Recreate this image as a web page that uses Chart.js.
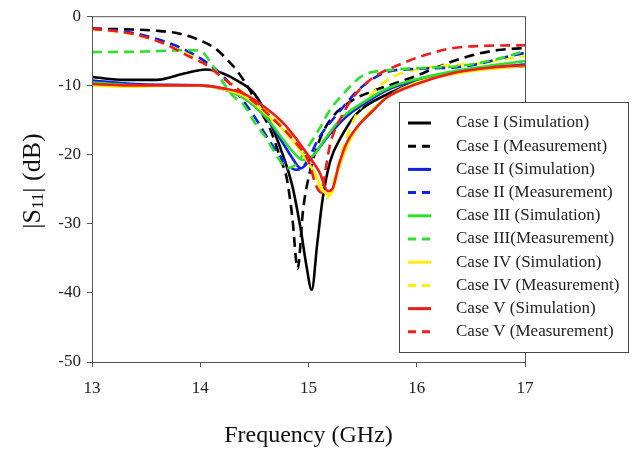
<!DOCTYPE html>
<html>
<head>
<meta charset="utf-8">
<script src="https://cdn.jsdelivr.net/npm/chart.js@4"></script>
<style>
  html, body { margin: 0; padding: 0; background: #fff; }
  #wrap { width: 635px; height: 450px; }
</style>
</head>
<body>
<div id="wrap"><canvas id="s11Chart" width="635" height="450"></canvas></div>
<script>
// Frequency (GHz) / |S11| (dB) pairs
const case1Sim = [[13.0,-8.8],[13.3,-9.2],[13.6,-9.2],[13.85,-8.3],[14.05,-7.7],[14.2,-8.2],[14.35,-9.4],[14.5,-11.2],[14.65,-15.5],[14.75,-19.5],[14.85,-24.5],[14.93,-31],[14.98,-36],[15.03,-39.6],[15.08,-33],[15.13,-26.5],[15.2,-21],[15.3,-17.5],[15.45,-14],[15.7,-11.5],[16.0,-9.5],[16.3,-8.3],[16.6,-7.6],[17.0,-7.2]];
const case1Meas = [[13.0,-1.8],[13.3,-1.9],[13.6,-2.1],[13.8,-2.5],[14.0,-3.5],[14.15,-4.8],[14.25,-6.3],[14.35,-8.1],[14.45,-10.5],[14.55,-13.5],[14.65,-16.5],[14.75,-21],[14.8,-23.5],[14.85,-29],[14.9,-36.5],[14.95,-28],[15.01,-22.7],[15.1,-18],[15.2,-15],[15.4,-12.2],[15.6,-10.8],[15.8,-9.7],[16.0,-8.6],[16.2,-7.3],[16.5,-5.7],[16.75,-4.9],[17.0,-4.6]];
const case2Sim = [[13.0,-9.3],[13.5,-9.9],[14.0,-10],[14.2,-10.5],[14.4,-11.8],[14.6,-14.5],[14.75,-18],[14.85,-20.5],[14.93,-22],[15.0,-21],[15.1,-19],[15.2,-17],[15.35,-14.5],[15.5,-12.8],[15.75,-10.5],[16.0,-9.3],[16.4,-8],[16.7,-7.4],[17.0,-7.0]];
const case2Meas = [[13.0,-1.8],[13.3,-2.2],[13.6,-3.3],[13.85,-4.8],[14.05,-6.6],[14.2,-8.5],[14.35,-11.3],[14.5,-14.5],[14.65,-18.3],[14.78,-21],[14.88,-22.2],[14.95,-21.8],[15.02,-20],[15.1,-17.5],[15.22,-15],[15.35,-12.6],[15.45,-10.8],[15.7,-8.2],[16.0,-7.6],[16.35,-7.4],[16.6,-6.8],[16.8,-6.0],[17.0,-5.3]];
const case3Sim = [[13.0,-9.6],[13.5,-10],[14.0,-10],[14.2,-10.5],[14.4,-11.8],[14.6,-14.5],[14.75,-17.5],[14.85,-19.5],[14.95,-20.8],[15.05,-20],[15.15,-17.8],[15.3,-14.8],[15.5,-12.5],[15.75,-10.3],[16.0,-9.1],[16.4,-7.8],[16.7,-7.1],[17.0,-6.5]];
const case3Meas = [[13.0,-5.2],[13.5,-5.1],[13.9,-4.9],[14.0,-5.0],[14.1,-6.8],[14.2,-9.3],[14.3,-11.5],[14.4,-12.8],[14.5,-15.3],[14.62,-17.9],[14.72,-20.5],[14.8,-22],[14.88,-21.5],[14.97,-19.5],[15.1,-16.3],[15.2,-13.5],[15.3,-11.6],[15.5,-8.6],[15.75,-7.8],[16.03,-7.5],[16.4,-7.2],[16.77,-6.1],[17.0,-5.0]];
const case4Sim = [[13.0,-10.0],[13.3,-10.2],[13.6,-10.1],[14.0,-10.0],[14.2,-10.5],[14.4,-11.5],[14.6,-14],[14.8,-17],[14.95,-20],[15.05,-22.5],[15.15,-25.5],[15.2,-25.8],[15.28,-22],[15.35,-19],[15.5,-15],[15.75,-11.5],[16.0,-9.6],[16.4,-8.2],[16.7,-7.6],[17.0,-7.2]];
const case4Meas = [[13.0,-1.9],[13.3,-2.4],[13.6,-3.5],[13.85,-5.2],[14.05,-6.8],[14.2,-8.7],[14.35,-10.5],[14.5,-12.3],[14.7,-15],[14.9,-18.5],[15.05,-22.5],[15.17,-26.3],[15.25,-23],[15.33,-18.5],[15.45,-14],[15.6,-11],[15.75,-9],[16.0,-7.7],[16.3,-7.1],[16.6,-6.8],[16.85,-6.1],[17.0,-5.8]];
const case5Sim = [[13.0,-9.8],[13.3,-10.0],[13.7,-10.0],[14.0,-10.0],[14.2,-10.4],[14.4,-11.2],[14.6,-13.2],[14.77,-15.5],[14.9,-18],[15.01,-20.4],[15.1,-22.5],[15.18,-25.3],[15.22,-25],[15.28,-21.5],[15.35,-18.4],[15.45,-16],[15.6,-13.6],[15.72,-11.8],[16.0,-9.8],[16.34,-8.2],[16.7,-7.4],[17.0,-7.1]];
const case5Meas = [[13.0,-1.8],[13.36,-2.5],[13.64,-3.8],[13.91,-5.9],[14.05,-7.0],[14.23,-9.2],[14.4,-11.2],[14.6,-13.8],[14.86,-17.9],[15.0,-21],[15.07,-24.5],[15.12,-25.5],[15.16,-22],[15.2,-18.5],[15.29,-15],[15.4,-12],[15.57,-9.2],[15.87,-6.8],[16.1,-5.5],[16.34,-4.6],[16.6,-4.3],[17.0,-4.2]];

const seriesLabels = [
  "Case I (Simulation)", "Case I (Measurement)",
  "Case II (Simulation)", "Case II (Measurement)",
  "Case III (Simulation)", "Case III(Measurement)",
  "Case IV (Simulation)", "Case IV (Measurement)",
  "Case V (Simulation)", "Case V (Measurement)"
];
const seriesData = [case1Sim, case1Meas, case2Sim, case2Meas, case3Sim, case3Meas, case4Sim, case4Meas, case5Sim, case5Meas];
const seriesColors = ["#000000", "#000000", "#1020e0", "#1020e0", "#2ee02e", "#2ee02e", "#fff000", "#fff000", "#ee1c1c", "#ee1c1c"];
// drawing order: lower number ends up on top
const drawOrder = [9, 8, 6, 5, 4, 3, 2, 7, 0, 1];

const yTicks = [0, -10, -20, -30, -40, -50];
const xTicks = [13, 14, 15, 16, 17];

const serif = "'Liberation Serif', 'Times New Roman', serif";
const DASH = [10, 6];

const datasets = seriesData.map((pts, i) => ({
  label: seriesLabels[i],
  data: pts.map((p) => ({ x: p[0], y: p[1] })),
  borderColor: seriesColors[i],
  backgroundColor: seriesColors[i],
  borderWidth: 2.6,
  borderDash: i % 2 === 1 ? DASH : [],
  pointRadius: 0,
  fill: false,
  showLine: true,
  cubicInterpolationMode: "monotone",
  order: drawOrder[i],
}));

// frame, axis titles and the boxed legend
const extras = {
  id: "extras",
  afterDatasetsDraw(chart) {
    const { ctx, chartArea: a } = chart;
    ctx.save();
    ctx.strokeStyle = "#555";
    ctx.lineWidth = 1;
    ctx.strokeRect(a.left + 0.5, a.top + 0.5, a.right - a.left, a.bottom - a.top);

    // x title
    ctx.fillStyle = "#111";
    ctx.font = "24px " + serif;
    ctx.textAlign = "center";
    ctx.textBaseline = "middle";
    ctx.fillText("Frequency (GHz)", (a.left + a.right) / 2, 436);

    // y title with subscript
    ctx.save();
    ctx.translate(33, 181);
    ctx.rotate(-Math.PI / 2);
    const big = "26px " + serif, small = "17px " + serif;
    ctx.font = big;
    const w1 = ctx.measureText("|S").width;
    const w3 = ctx.measureText("| (dB)").width;
    ctx.font = small;
    const w2 = ctx.measureText("11").width;
    let x = -(w1 + w2 + w3) / 2;
    ctx.textAlign = "left";
    ctx.font = big;
    ctx.fillText("|S", x, 0);
    x += w1;
    ctx.font = small;
    ctx.fillText("11", x, 6);
    x += w2;
    ctx.font = big;
    ctx.fillText("| (dB)", x, 0);
    ctx.restore();

    // legend
    const lx = 399, ly = 102, lw = 229, lh = 250;
    ctx.fillStyle = "#fff";
    ctx.fillRect(lx, ly, lw, lh);
    ctx.strokeStyle = "#444";
    ctx.strokeRect(lx + 0.5, ly + 0.5, lw, lh);
    ctx.font = "17px " + serif;
    ctx.textAlign = "left";
    ctx.textBaseline = "middle";
    chart.data.datasets.forEach((ds, i) => {
      const y = 123 + i * 23.2;
      ctx.strokeStyle = ds.borderColor;
      ctx.lineWidth = 3;
      ctx.setLineDash(ds.borderDash.length ? [8, 6] : []);
      ctx.beginPath();
      ctx.moveTo(408, y);
      ctx.lineTo(431, y);
      ctx.stroke();
      ctx.setLineDash([]);
      ctx.fillStyle = "#222";
      ctx.fillText(ds.label, 456, y);
    });
    ctx.restore();
  },
};

const ctx = document.getElementById("s11Chart").getContext("2d");
new Chart(ctx, {
  type: "scatter",
  data: { datasets },
  options: {
    responsive: false,
    animation: false,
    layout: { padding: { left: 0, right: 110, top: 16, bottom: 0 } },
    plugins: { legend: { display: false }, tooltip: { enabled: false } },
    scales: {
      x: {
        type: "linear",
        min: 13,
        max: 17,
        afterBuildTicks: (axis) => { axis.ticks = xTicks.map((v) => ({ value: v })); },
        afterFit: (axis) => { axis.height = 88; },
        grid: { drawOnChartArea: false, drawTicks: true, tickLength: 5, color: "#555" },
        border: { display: true, color: "#555" },
        ticks: { color: "#222", font: { family: serif, size: 17 }, padding: 11 },
      },
      y: {
        type: "linear",
        min: -50,
        max: 0,
        afterBuildTicks: (axis) => { axis.ticks = yTicks.map((v) => ({ value: v })); },
        afterFit: (axis) => { axis.width = 92; },
        grid: { drawOnChartArea: false, drawTicks: true, tickLength: 5, color: "#555" },
        border: { display: true, color: "#555" },
        ticks: { color: "#222", font: { family: serif, size: 17 }, padding: 6 },
      },
    },
  },
  plugins: [extras],
});
</script>
</body>
</html>
